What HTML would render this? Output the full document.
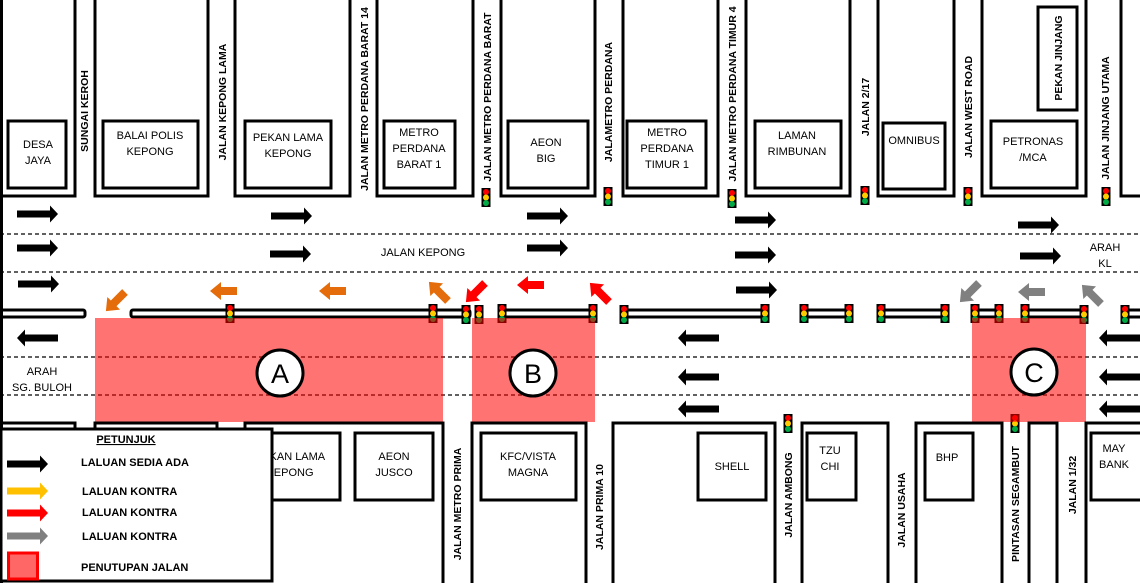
<!DOCTYPE html>
<html><head><meta charset="utf-8"><style>
html,body{margin:0;padding:0;background:#fff;}
svg{display:block;}
text{font-family:"Liberation Sans",sans-serif;font-size:11px;fill:#000;}
.b{fill:none;stroke:#000;stroke-width:3;}
.v{font-size:10.5px;font-weight:bold;}
.c{text-anchor:middle;}
</style></head><body>
<svg width="1140" height="583" viewBox="0 0 1140 583" xmlns="http://www.w3.org/2000/svg">
<defs>
<path id="ar" d="M0,-3.5 H33 V-8.5 L41,0 L33,8.5 V3.5 H0 Z"/>
<path id="sa" d="M0,-4 H16 V-9 L27,0 L16,9 V4 H0 Z"/>
<g id="tl"><rect x="-4.5" y="0" width="9" height="19" fill="#000"/><circle cx="0" cy="4" r="3" fill="#f00"/><circle cx="0" cy="9.5" r="3" fill="#fc0"/><circle cx="0" cy="15" r="3" fill="#0a4"/></g>
</defs>
<rect width="1140" height="583" fill="#fff"/>
<line x1="1.5" y1="0" x2="1.5" y2="583" stroke="#000" stroke-width="3"/>

<path class="b" d="M0,196 H75 V0"/>
<path class="b" d="M95,0 V196 H208 V0"/>
<path class="b" d="M235,0 V196 H350 V0"/>
<path class="b" d="M377,0 V196 H473 V0"/>
<path class="b" d="M501,0 V196 H595 V0"/>
<path class="b" d="M623,0 V196 H718 V0"/>
<path class="b" d="M746,0 V196 H850 V0"/>
<path class="b" d="M878,0 V196 H954 V0"/>
<path class="b" d="M982,0 V196 H1086 V0"/>
<path class="b" d="M1121,0 V196 H1142"/>

<rect class="b" x="8" y="121" width="58" height="67"/>
<rect class="b" x="103" y="121" width="95" height="67"/>
<rect class="b" x="245" y="121" width="86" height="67"/>
<rect class="b" x="384" y="121" width="71" height="67"/>
<rect class="b" x="508" y="121" width="80" height="67"/>
<rect class="b" x="627" y="121" width="79" height="67"/>
<rect class="b" x="755" y="121" width="86" height="67"/>
<rect class="b" x="883" y="123" width="62" height="66"/>
<rect class="b" x="991" y="121" width="86" height="67"/>
<rect class="b" x="1038" y="7" width="39" height="103"/>

<text class="c" x="38" y="148">DESA</text><text class="c" x="38" y="164">JAYA</text>
<text class="c" x="150" y="139">BALAI POLIS</text><text class="c" x="150" y="155">KEPONG</text>
<text class="c" x="288" y="141">PEKAN LAMA</text><text class="c" x="288" y="157">KEPONG</text>
<text class="c" x="419" y="136">METRO</text><text class="c" x="419" y="152">PERDANA</text><text class="c" x="419" y="168">BARAT 1</text>
<text class="c" x="546" y="146">AEON</text><text class="c" x="546" y="162">BIG</text>
<text class="c" x="667" y="136">METRO</text><text class="c" x="667" y="152">PERDANA</text><text class="c" x="667" y="168">TIMUR 1</text>
<text class="c" x="797" y="139">LAMAN</text><text class="c" x="797" y="155">RIMBUNAN</text>
<text class="c" x="914" y="144">OMNIBUS</text>
<text class="c" x="1033" y="145">PETRONAS</text><text class="c" x="1033" y="161">/MCA</text>
<text class="v c" transform="translate(1062,58) rotate(-90)">PEKAN JINJANG</text>

<text class="v c" transform="translate(88,111) rotate(-90)">SUNGAI KEROH</text>
<text class="v c" transform="translate(226,102) rotate(-90)">JALAN KEPONG LAMA</text>
<text class="v c" transform="translate(368,99) rotate(-90)">JALAN METRO PERDANA BARAT 14</text>
<text class="v c" transform="translate(491,97) rotate(-90)">JALAN METRO PERDANA BARAT</text>
<text class="v c" transform="translate(612,102) rotate(-90)">JALAMETRO PERDANA</text>
<text class="v c" transform="translate(736,94) rotate(-90)">JALAN METRO PERDANA TIMUR 4</text>
<text class="v c" transform="translate(869,107) rotate(-90)">JALAN 2/17</text>
<text class="v c" transform="translate(972,107) rotate(-90)">JALAN WEST ROAD</text>
<text class="v c" transform="translate(1109,118) rotate(-90)">JALAN JINJANG UTAMA</text>

<use href="#tl" x="486" y="188"/><use href="#tl" x="608" y="187"/><use href="#tl" x="732" y="189"/>
<use href="#tl" x="865" y="186"/><use href="#tl" x="968" y="187"/><use href="#tl" x="1106" y="187"/>

<g stroke="#000" stroke-width="1.2" stroke-dasharray="4,3">
<line x1="0" y1="234" x2="1140" y2="234"/><line x1="0" y1="272" x2="1140" y2="272"/>
<line x1="0" y1="357" x2="1140" y2="357"/><line x1="0" y1="395" x2="1140" y2="395"/>
</g>

<g class="b" stroke-linejoin="round">
<rect x="-3" y="310" width="88" height="7" rx="2"/>
<rect x="131" y="310" width="339" height="7" rx="2"/>
<rect x="501" y="310" width="94" height="7" rx="2"/>
<rect x="624" y="310" width="141" height="7"/>
<rect x="804" y="310" width="45" height="7"/>
<rect x="881" y="310" width="64" height="7"/>
<rect x="975" y="310" width="24" height="7"/>
<rect x="1025" y="310" width="60" height="7"/>
<rect x="1125" y="310" width="20" height="7"/>
</g>
<g>
<use href="#tl" x="230" y="304"/><use href="#tl" x="433" y="304"/><use href="#tl" x="466" y="305"/><use href="#tl" x="479" y="305"/>
<use href="#tl" x="502" y="304"/><use href="#tl" x="593" y="304"/><use href="#tl" x="624" y="305"/><use href="#tl" x="765" y="304"/>
<use href="#tl" x="804" y="304"/><use href="#tl" x="849" y="304"/><use href="#tl" x="881" y="304"/><use href="#tl" x="945" y="304"/>
<use href="#tl" x="975" y="304"/><use href="#tl" x="999" y="304"/><use href="#tl" x="1025" y="304"/><use href="#tl" x="1084" y="305"/>
<use href="#tl" x="1125" y="305"/>
<use href="#tl" x="788" y="414"/><use href="#tl" x="1015" y="414"/>
</g>

<g fill="#ff0000" fill-opacity="0.55">
<rect x="95" y="318" width="348" height="104"/>
<rect x="472" y="318" width="123" height="104"/>
<rect x="972" y="318" width="114" height="104"/>
</g>
<g fill="#fff" stroke="#000" stroke-width="3">
<circle cx="280" cy="373" r="23"/><circle cx="533" cy="373" r="23"/><circle cx="1034" cy="372" r="23"/>
</g>
<text class="c" x="280" y="383" style="font-size:27px">A</text>
<text class="c" x="533" y="383" style="font-size:27px">B</text>
<text class="c" x="1034" y="382" style="font-size:27px">C</text>

<g fill="#000">
<use href="#ar" x="17" y="214"/><use href="#ar" x="17" y="248"/><use href="#ar" x="18" y="284"/>
<use href="#ar" x="271" y="216"/><use href="#ar" x="270" y="254"/>
<use href="#ar" x="527" y="216"/><use href="#ar" x="527" y="248"/>
<use href="#ar" x="735" y="220"/><use href="#ar" x="735" y="255"/><use href="#ar" x="736" y="290"/>
<use href="#ar" x="1018" y="225"/><use href="#ar" x="1020" y="256"/>
<use href="#ar" transform="translate(58,338) rotate(180)"/>
<use href="#ar" transform="translate(719,338) rotate(180)"/><use href="#ar" transform="translate(719,377) rotate(180)"/><use href="#ar" transform="translate(719,409) rotate(180)"/>
<use href="#ar" transform="translate(1140,338) rotate(180)"/><use href="#ar" transform="translate(1140,377) rotate(180)"/><use href="#ar" transform="translate(1140,409) rotate(180)"/>
</g>
<g fill="#e46c0a">
<use href="#sa" transform="translate(125,292) rotate(135)"/>
<use href="#sa" transform="translate(237,291) rotate(180)"/>
<use href="#sa" transform="translate(346,291) rotate(180)"/>
<use href="#sa" transform="translate(448,301) rotate(-135)"/>
</g>
<g fill="#ff0000">
<use href="#sa" transform="translate(485,283) rotate(135)"/>
<use href="#sa" transform="translate(544,285) rotate(180)"/>
<use href="#sa" transform="translate(609,302) rotate(-135)"/>
</g>
<g fill="#808080">
<use href="#sa" transform="translate(979,283) rotate(135)"/>
<use href="#sa" transform="translate(1045,292) rotate(180)"/>
<use href="#sa" transform="translate(1101,304) rotate(-135)"/>
</g>

<text class="c" x="423" y="256">JALAN KEPONG</text>
<text class="c" x="1105" y="251">ARAH</text><text class="c" x="1105" y="267">KL</text>
<text class="c" x="42" y="375">ARAH</text><text class="c" x="42" y="391">SG. BULOH</text>

<path class="b" d="M0,423 H75 V430"/>
<path class="b" d="M95,430 V423 H217 V430"/>
<path class="b" d="M245,430 V423 H443 V583"/>
<path class="b" d="M472,583 V423 H586 V583"/>
<path class="b" d="M613,583 V423 H775 V583"/>
<path class="b" d="M802,583 V423 H888 V583"/>
<path class="b" d="M916,583 V423 H1002 V583"/>
<path class="b" d="M1029,583 V423 H1057 V583"/>
<path class="b" d="M1086,583 V423 H1142"/>
<rect class="b" x="240" y="433" width="100" height="67"/>
<rect class="b" x="355" y="433" width="78" height="67"/>
<rect class="b" x="481" y="433" width="95" height="67"/>
<rect class="b" x="698" y="433" width="68" height="67"/>
<rect class="b" x="807" y="433" width="49" height="67"/>
<rect class="b" x="925" y="433" width="48" height="67"/>
<rect class="b" x="1091" y="433" width="52" height="67"/>
<text class="c" x="290" y="460">PEKAN LAMA</text><text class="c" x="290" y="476">KEPONG</text>
<text class="c" x="394" y="460">AEON</text><text class="c" x="394" y="476">JUSCO</text>
<text class="c" x="528" y="460">KFC/VISTA</text><text class="c" x="528" y="476">MAGNA</text>
<text class="c" x="732" y="470">SHELL</text>
<text class="c" x="830" y="454">TZU</text><text class="c" x="830" y="470">CHI</text>
<text class="c" x="947" y="461">BHP</text>
<text class="c" x="1114" y="452">MAY</text><text class="c" x="1114" y="468">BANK</text>

<text class="v c" transform="translate(461,504) rotate(-90)">JALAN METRO PRIMA</text>
<text class="v c" transform="translate(603,507) rotate(-90)">JALAN PRIMA 10</text>
<text class="v c" transform="translate(792,495) rotate(-90)">JALAN AMBONG</text>
<text class="v c" transform="translate(905,510) rotate(-90)">JALAN USAHA</text>
<text class="v c" transform="translate(1019,504) rotate(-90)">PINTASAN SEGAMBUT</text>
<text class="v c" transform="translate(1076,485) rotate(-90)">JALAN 1/32</text>

<rect x="1" y="429" width="271" height="152" fill="#fff" stroke="#000" stroke-width="3"/>
<text class="c" x="126" y="443" style="font-weight:bold;text-decoration:underline">PETUNJUK</text>
<use href="#ar" x="7" y="464" fill="#000"/>
<use href="#ar" x="7" y="491" fill="#ffc000"/>
<use href="#ar" x="7" y="513" fill="#ff0000"/>
<use href="#ar" x="7" y="536" fill="#808080"/>
<rect x="8.5" y="553" width="29" height="26" fill="#ff6666" stroke="#ff0000" stroke-width="3"/>
<text x="81" y="466" style="font-weight:bold">LALUAN SEDIA ADA</text>
<text x="82" y="495" style="font-weight:bold">LALUAN KONTRA</text>
<text x="82" y="516" style="font-weight:bold">LALUAN KONTRA</text>
<text x="82" y="540" style="font-weight:bold">LALUAN KONTRA</text>
<text x="81" y="571" style="font-weight:bold">PENUTUPAN JALAN</text>
</svg>
</body></html>
